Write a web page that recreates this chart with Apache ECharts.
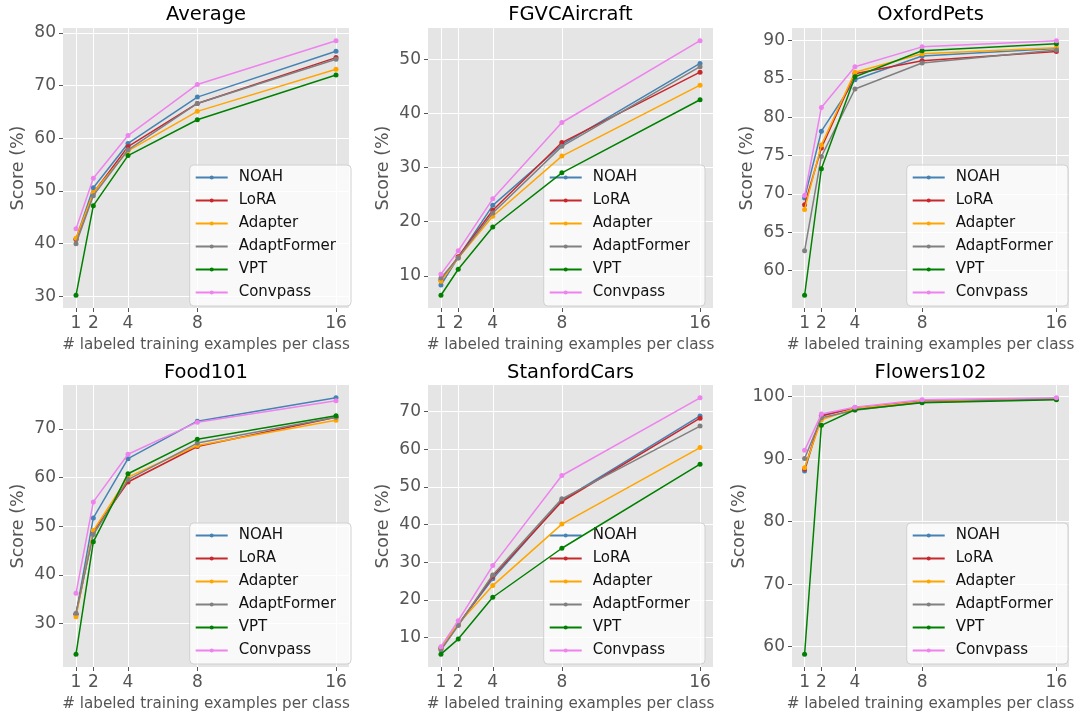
<!DOCTYPE html>
<html>
<head>
<meta charset="utf-8">
<script src="https://cdn.jsdelivr.net/npm/echarts@6/dist/echarts.min.js"></script>
<style>html,body{margin:0;padding:0;background:#fff}#c{width:1082px;height:714px}</style>
</head>
<body>
<div id="c"></div>
<script>
// ---- data ----
const shots = [1, 2, 4, 8, 16];
const methods = ['NOAH', 'LoRA', 'Adapter', 'AdaptFormer', 'VPT', 'Convpass'];
const datasets = ['Average', 'FGVCAircraft', 'OxfordPets', 'Food101', 'StanfordCars', 'Flowers102'];

// rows follow the order of `methods`
const averageScores = [
  [40.9, 50.6, 59.0, 67.8, 76.5],
  [40.8, 49.6, 58.4, 66.6, 75.3],
  [41.0, 49.7, 57.6, 65.1, 73.1],
  [40.0, 49.1, 57.8, 66.6, 75.0],
  [30.2, 47.2, 56.7, 63.5, 72.0],
  [42.8, 52.4, 60.5, 70.2, 78.5]
];
const fgvcScores = [
  [8.3, 13.4, 23.0, 34.2, 49.2],
  [9.2, 13.5, 22.1, 34.6, 47.6],
  [9.0, 13.3, 21.0, 32.1, 45.2],
  [9.6, 13.3, 21.6, 33.9, 48.6],
  [6.4, 11.2, 19.0, 29.0, 42.5],
  [10.3, 14.6, 24.2, 38.3, 53.4]
];
const petsScores = [
  [69.5, 78.2, 84.9, 88.0, 89.0],
  [68.6, 76.0, 85.7, 87.4, 88.6],
  [68.0, 76.4, 85.9, 88.3, 89.1],
  [62.6, 74.9, 83.7, 87.1, 88.8],
  [56.8, 73.3, 85.3, 88.7, 89.6],
  [69.8, 81.3, 86.6, 89.2, 90.0]
];
const foodScores = [
  [31.9, 51.7, 63.9, 71.6, 76.4],
  [31.9, 48.9, 59.1, 66.4, 72.4],
  [31.4, 49.1, 60.1, 66.6, 71.8],
  [32.1, 48.3, 59.6, 67.1, 72.4],
  [23.7, 46.8, 60.8, 67.9, 72.7],
  [36.2, 55.0, 64.8, 71.4, 75.8]
];
const carsScores = [
  [7.2, 13.5, 25.6, 46.4, 68.8],
  [7.2, 13.4, 26.2, 46.1, 68.2],
  [7.3, 13.6, 23.8, 40.1, 60.4],
  [6.7, 13.2, 26.6, 46.8, 66.1],
  [5.6, 9.6, 20.7, 33.7, 56.0],
  [7.6, 14.5, 29.1, 53.0, 73.6]
];
const flowersScores = [
  [88.1, 97.0, 98.2, 99.3, 99.7],
  [88.4, 96.9, 98.2, 99.2, 99.7],
  [88.6, 96.3, 98.1, 99.2, 99.6],
  [90.1, 96.6, 97.8, 99.1, 99.6],
  [58.8, 95.4, 97.9, 99.0, 99.5],
  [91.4, 97.2, 98.3, 99.5, 99.8]
];
const allScores = [averageScores, fgvcScores, petsScores, foodScores, carsScores, flowersScores];

const yTicks = [
  [30, 40, 50, 60, 70, 80],
  [10, 20, 30, 40, 50],
  [60, 65, 70, 75, 80, 85, 90],
  [30, 40, 50, 60, 70],
  [10, 20, 30, 40, 50, 60, 70],
  [60, 70, 80, 90, 100]
];

// ---- style / layout ----
const colors = ['#4682B4', '#C8282B', '#FFA500', '#808080', '#008000', '#EE82EE'];
const FONT = 'DejaVu Sans';
const colLeft = [63, 428, 792];
const colWidth = [286, 285, 277];
const rowTop = [28, 385];
const rowHeight = [280, 282];
const legendRight = [731, 377, 14];
const legendTop = [165, 523];
const titleTop = [5, 363];

const option = {
  backgroundColor: '#ffffff',
  animation: false,
  textStyle: { fontFamily: FONT },
  grid: [], xAxis: [], yAxis: [], title: [], legend: [], series: []
};

datasets.forEach((name, i) => {
  const r = Math.floor(i / 3), c = i % 3;
  const scores = allScores[i];
  let lo = Infinity, hi = -Infinity;
  scores.forEach(row => row.forEach(v => { lo = Math.min(lo, v); hi = Math.max(hi, v); }));
  const pad = (hi - lo) * 0.05;
  const xPad = (shots[shots.length - 1] - shots[0]) * 0.05;

  option.grid.push({
    left: colLeft[c], top: rowTop[r], width: colWidth[c], height: rowHeight[r],
    show: true, backgroundColor: '#E5E5E5', borderWidth: 0, containLabel: false
  });
  option.title.push({
    text: name, left: colLeft[c] + colWidth[c] / 2, top: titleTop[r], textAlign: 'center', padding: 0,
    textStyle: { fontFamily: FONT, fontSize: 19.5, fontWeight: 'normal', color: '#000' }
  });
  option.xAxis.push({
    type: 'value', gridIndex: i, min: shots[0] - xPad, max: shots[shots.length - 1] + xPad,
    name: '# labeled training examples per class', nameLocation: 'middle', nameGap: 30,
    nameTextStyle: { fontFamily: FONT, fontSize: 15.2, color: '#555' },
    axisLine: { show: false },
    axisTick: { show: true, length: 4, lineStyle: { color: '#555', width: 1 }, customValues: shots },
    axisLabel: { fontFamily: FONT, fontSize: 17, color: '#555', margin: 7, customValues: shots },
    splitLine: { show: true, lineStyle: { color: '#ffffff', width: 1 } }
  });
  option.yAxis.push({
    type: 'value', gridIndex: i, min: lo - pad, max: hi + pad,
    name: 'Score (%)', nameLocation: 'middle', nameGap: 36, nameRotate: 90,
    nameTextStyle: { fontFamily: FONT, fontSize: 17.5, color: '#555' },
    axisLine: { show: false },
    axisTick: { show: true, length: 4, lineStyle: { color: '#555', width: 1 }, customValues: yTicks[i] },
    axisLabel: { fontFamily: FONT, fontSize: 17, color: '#555', margin: 7, customValues: yTicks[i] },
    splitLine: { show: true, lineStyle: { color: '#ffffff', width: 1 } }
  });
  option.legend.push({
    data: methods, orient: 'vertical', right: legendRight[c], top: legendTop[r],
    selectedMode: false, itemWidth: 32, itemHeight: 5, itemGap: 8,
    padding: [5, 15, 6, 5],
    backgroundColor: 'rgba(255,255,255,0.78)', borderColor: '#d0d0d0', borderWidth: 1, borderRadius: 4,
    textStyle: { fontFamily: FONT, fontSize: 15, color: '#111', lineHeight: 14, padding: [0, 0, 0, 6] }
  });
  methods.forEach((m, k) => {
    option.series.push({
      name: m, type: 'line', xAxisIndex: i, yAxisIndex: i,
      data: shots.map((s, j) => [s, scores[k][j]]),
      symbol: 'circle', symbolSize: 5, showSymbol: true,
      lineStyle: { color: colors[k], width: 1.5 },
      itemStyle: { color: colors[k] },
      emphasis: { disabled: true }, z: 2 + k
    });
  });
});

const chart = echarts.init(document.getElementById('c'), null, { renderer: 'canvas' });
chart.setOption(option);
</script>
</body>
</html>
